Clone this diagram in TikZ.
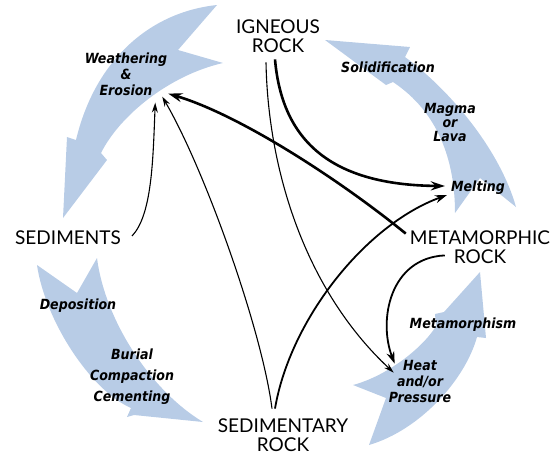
\documentclass[tikz,border=0pt]{standalone}
\usepackage{fontspec}
\setmainfont{DejaVu Sans}
\newfontfamily\capsfont{Lato}
\newfontfamily\labelfont{DejaVu Sans Condensed}
\usetikzlibrary{arrows.meta}
\definecolor{bandblue}{RGB}{184,204,230}

\begin{document}
\begin{tikzpicture}[x=1pt, y=-1pt,
    band/.style={fill=bandblue, draw=none},
    rock/.style={font=\capsfont\fontsize{19}{18.5}\selectfont, align=center, inner sep=2pt},
    step label/.style={font=\labelfont\fontsize{14}{16}\selectfont\bfseries\itshape, align=center, inner sep=2pt},
    heavyline/.style={line width=2.6pt, -{Stealth[length=14pt,width=9pt]}},
    midline/.style={line width=1.8pt, -{Stealth[length=12pt,width=8pt]}},
    thinline/.style={line width=1.1pt, -{Stealth[length=10pt,width=6pt]}}]
    \useasboundingbox (0,0) rectangle (552,456);

    % Flechas azules del ciclo
    \fill[band] (217,5) .. controls (150,12) and (95,60) .. (76,140) -- (67,137) -- (63,218)
        -- (107,160) -- (101,153) .. controls (120,115) and (170,75) .. (223,63) -- (178,50) -- cycle;
    \fill[band] (325,40) -- (410,47) -- (405,57) .. controls (450,90) and (500,150) .. (516,207)
        -- (480,178) -- (455,213) .. controls (455,160) and (438,112) .. (393,82) -- (386,85) -- cycle;
    \fill[band] (37,265) -- (77,293) -- (97,258) .. controls (105,320) and (150,390) .. (203,422)
        -- (134,415) -- (127,417) -- (131,408) .. controls (90,390) and (45,320) .. cycle;
    \fill[band] (480,272) -- (486,338) -- (477,337) .. controls (465,380) and (420,430) .. (369,445)
        -- (386,398) -- (353,385) .. controls (390,375) and (425,345) .. (436,326) -- (435,314)
        -- (444,312) -- cycle;

    % Rocas
    \node[rock] (igneous) at (278,36) {IGNEOUS\\ROCK};
    \node[rock] (metamorphic) at (480,247) {METAMORPHIC\\ROCK};
    \node[rock] (sedimentary) at (283,435) {SEDIMENTARY\\ROCK};
    \node[rock] (sediments) at (68,238) {SEDIMENTS};

    % Procesos
    \node[step label] (weathering) at (126,74) {Weathering\\\&\\Erosion};
    \node[step label] (solidification) at (388,67) {Solidification};
    \node[step label] (magma) at (450,122) {Magma\\[-2pt]or\\[-2pt]Lava};
    \node[step label] (melting) at (478,188) {Melting};
    \node[step label] (metamorphism) at (463,325) {Metamorphism};
    \node[step label] (heat) at (420,381) {Heat\\and/or\\Pressure};
    \node[step label] (deposition) at (78,306) {Deposition};
    \node[step label] (burial) at (132,377) {Burial\\[5pt]Compaction\\[5pt]Cementing};

    % Caminos entre rocas
    \draw[heavyline] ([xshift=-3pt,yshift=-5pt]igneous.south) .. controls (282,140) and (330,185)
        .. ([xshift=-4pt,yshift=2pt]melting.west);
    \draw[thinline] ([xshift=-12pt,yshift=-8pt]igneous.south) .. controls (268,170) and (305,290)
        .. ([xshift=7pt,yshift=-15pt]heat.north west);
    \draw[heavyline] ([xshift=-2pt,yshift=-5pt]metamorphic.north west) .. controls (340,180) and (240,115)
        .. ([xshift=-1pt,yshift=4pt]weathering.south east);
    \draw[midline] ([xshift=37pt,yshift=10pt]metamorphic.south west) .. controls (390,258) and (378,320)
        .. ([xshift=8pt,yshift=-6pt]heat.north west);
    \draw[midline] ([xshift=-8pt,yshift=8pt]sedimentary.north) .. controls (290,320) and (365,225)
        .. ([xshift=-2pt,yshift=-7pt]melting.west);
    \draw[thinline] ([xshift=-11pt,yshift=8pt]sedimentary.north) .. controls (262,330) and (205,170)
        .. ([xshift=-7pt,yshift=1pt]weathering.south east);
    \draw[thinline] ([xshift=9pt,yshift=2pt]sediments.east) .. controls (152,215) and (153,160)
        .. ([xshift=-14pt,yshift=-5pt]weathering.south east);
\end{tikzpicture}
\end{document}
